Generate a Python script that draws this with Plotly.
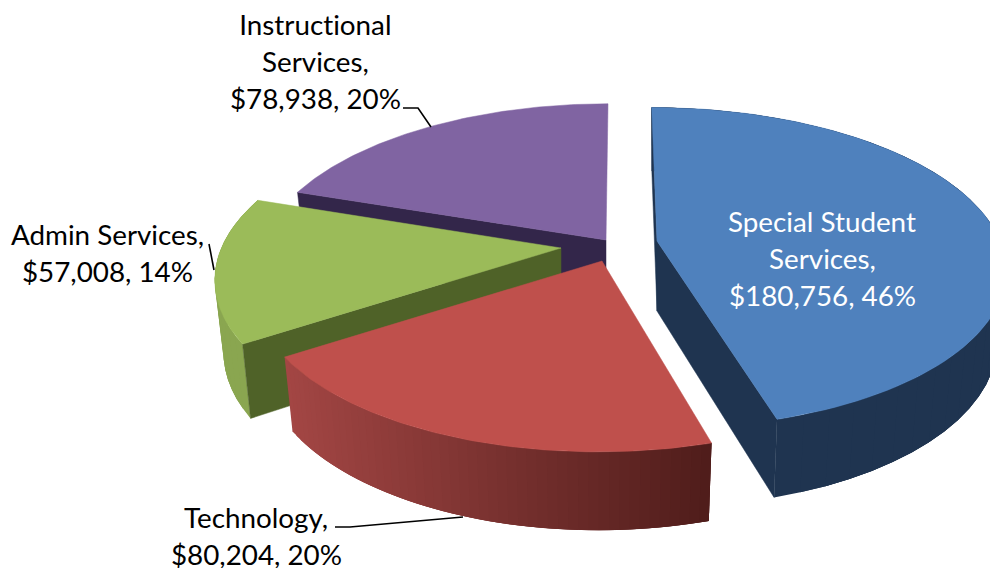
import math
import plotly.graph_objects as go

# ---- data ----
categories = ["Special Student\nServices", "Technology", "Admin Services", "Instructional\nServices"]
values = [180756, 80204, 57008, 78938]

# ---- style ----
top_colors = ["#4F81BD", "#BF504C", "#9BBB59", "#8064A2"]
edge_colors = ["#1F3450", "#4F1D1B", "#4F6228", "#33264A"]
wall_left = ["#1F3450", "#A34644", "#8AA650", "#33264A"]
wall_right = ["#1F3450", "#4F1D1B", "#8AA650", "#33264A"]
apexes = [(657, 241), (602, 261), (561, 248), (606, 240)]
y_scales = [0.98, 1.0, 1.0, 1.0]
x_scales = [1.0, 1.0, 0.99, 1.0]
label_centers = [(822, 221), (256, 517), (107, 234), (315, 24)]
label_colors = ["white", "black", "black", "black"]
leaders = [None, [(335, 527), (350, 527), (463, 517)],
           [(209, 244), (214, 270)], [(403, 108), (418, 108), (431, 127)]]

R, T, P, CX, D = 343, 159, 0.167, 620, 70
SHRINK = 0.975
LINE_H = 37
FONT = "Lato"
FONT_SIZE = 27.8

total = sum(values)
spans = [v / total * 360 for v in values]
starts = [sum(spans[:i]) for i in range(len(spans))]


def proj(i, deg, r, z):
    apex = apexes[i]
    th = math.radians(deg)
    x, y = math.sin(th) * r, -math.cos(th) * r
    s = 1 / (1 - P * y)
    px = CX + (apex[0] - CX + R * x_scales[i] * x) * s
    py = apex[1] + T * y_scales[i] * y * s
    if z:
        px = apex[0] + (px - apex[0]) * SHRINK
        py += D * s ** 0.62
    return px, py


def hexrgb(c):
    return [int(c[i:i + 2], 16) for i in (1, 3, 5)]


def mix(a, b, t):
    ca, cb = hexrgb(a), hexrgb(b)
    return "#%02x%02x%02x" % tuple(round(p + (q - p) * t) for p, q in zip(ca, cb))


fig = go.Figure()


def poly(points, color, lw=0.5):
    xs = [p[0] for p in points] + [points[0][0]]
    ys = [p[1] for p in points] + [points[0][1]]
    fig.add_trace(go.Scatter(x=xs, y=ys, mode="lines", fill="toself", fillcolor=color,
                             line=dict(color=color, width=lw), hoverinfo="skip", showlegend=False))


def edge_wall(i, deg):
    poly([proj(i, deg, 0, 0), proj(i, deg, 1, 0), proj(i, deg, 1, 1), proj(i, deg, 0, 1)], edge_colors[i])


def outer_wall(i, a0, a1, n):
    step = (a1 - a0) / n
    lo, hi = proj(i, a0, 1, 0)[0], proj(i, a1, 1, 0)[0]
    for k in range(n):
        d0 = a0 + step * k
        # each band reaches well past the next one, which is painted over it: no seams
        d1 = min(max(a0 + step * (k + 3), min(a0, a1)), max(a0, a1))
        mid = proj(i, a0 + step * (k + 0.5), 1, 0)[0]
        t = abs(mid - lo) / max(abs(hi - lo), 1)
        pts = [proj(i, d0 + (d1 - d0) * q / 3, 1, 0) for q in range(4)]
        pts += [proj(i, d1 - (d1 - d0) * q / 3, 1, 1) for q in range(4)]
        poly(pts, mix(wall_left[i], wall_right[i], min(t, 1)), lw=0)


def top(i):
    s, e = starts[i], starts[i] + spans[i]
    n = 90
    pts = [proj(i, 0, 0, 0)] + [proj(i, s + (e - s) * k / n, 1, 0) for k in range(n + 1)]
    poly(pts, top_colors[i])


# Instructional Services (back)
i = 3
edge_wall(i, starts[i])
top(i)
# Admin Services
i = 2
outer_wall(i, starts[i], starts[i] + spans[i], 16)
edge_wall(i, starts[i])
top(i)
# Technology: walls run left to right along the front
i = 1
outer_wall(i, starts[i] + spans[i], starts[i], 50)
top(i)
# Special Student Services (front right)
i = 0
edge_wall(i, starts[i])
edge_wall(i, starts[i] + spans[i])
outer_wall(i, starts[i] + spans[i], starts[i], 40)
top(i)

# ---- labels ----
annotations = []
for cat, v, (cx, cy), col in zip(categories, values, label_centers, label_colors):
    lines = cat.split("\n")
    lines[-1] += ","
    lines.append(f"${v:,}, {round(v / total * 100)}%")
    for n, line in enumerate(lines):
        annotations.append(dict(x=cx, y=cy + n * LINE_H, text=line, showarrow=False,
                                xref="x", yref="y", xanchor="center", yanchor="middle",
                                font=dict(family=FONT, size=FONT_SIZE, color=col)))

for path in leaders:
    if path:
        fig.add_trace(go.Scatter(x=[p[0] for p in path], y=[p[1] for p in path], mode="lines",
                                 line=dict(color="black", width=1.6), hoverinfo="skip", showlegend=False))

fig.update_layout(width=990, height=568, margin=dict(l=0, r=0, t=0, b=0),
                  paper_bgcolor="white", plot_bgcolor="white", showlegend=False,
                  annotations=annotations,
                  xaxis=dict(range=[0, 990], visible=False, fixedrange=True),
                  yaxis=dict(range=[568, 0], visible=False, fixedrange=True))
page_css = ("var s=document.createElement('style');"
            "s.textContent='html,body{margin:0;padding:0;overflow:hidden}"
            "svg text{font-variant-ligatures:none !important;font-feature-settings:\"liga\" 0,\"clig\" 0 !important}';"
            "document.head.appendChild(s);")
fig.write_html("out.html", config={"displayModeBar": False}, post_script=page_css)
